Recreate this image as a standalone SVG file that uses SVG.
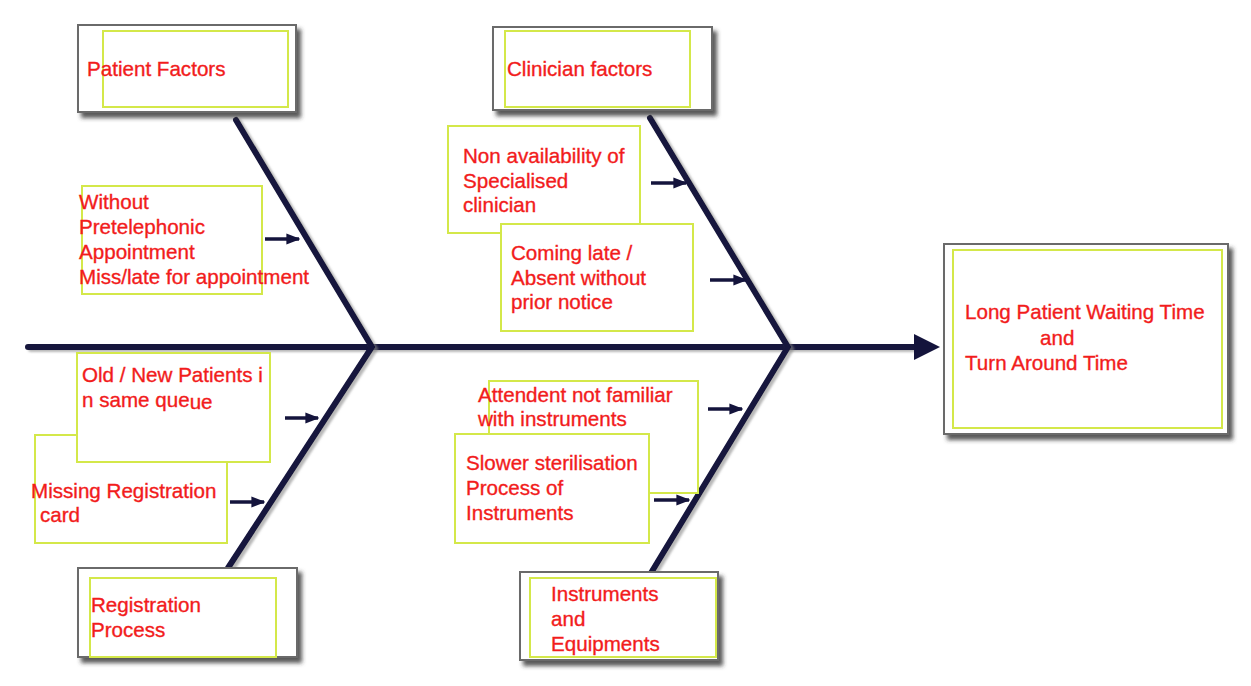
<svg xmlns="http://www.w3.org/2000/svg" width="1251" height="686" viewBox="0 0 1251 686">
<defs>
<filter id="sh" x="-10%" y="-10%" width="130%" height="140%">
<feDropShadow dx="4" dy="5" stdDeviation="2" flood-color="#333" flood-opacity="0.8"/>
</filter>
<filter id="lsh" filterUnits="userSpaceOnUse" x="0" y="0" width="1251" height="686">
<feDropShadow dx="3" dy="2" stdDeviation="1.2" flood-color="#888" flood-opacity="0.6"/>
</filter>
<marker id="ah" viewBox="0 0 10 10" refX="9" refY="5" markerWidth="4" markerHeight="4" markerUnits="strokeWidth" orient="auto">
<path d="M0,1 L10,5 L0,9 z" fill="#14143c"/>
</marker>
</defs>
<style>
.cat{fill:#fff;stroke:#6a6a6a;stroke-width:2;filter:url(#sh)}
.in{fill:none;stroke:#d4e84a;stroke-width:2}
.cb{fill:#fff;stroke:#d4e84a;stroke-width:2}
.t{font-family:"Liberation Sans",Arial,sans-serif;font-size:20.6px;fill:#f21c1c;stroke:#f21c1c;stroke-width:0.35}
.bone{stroke:#14143c;stroke-width:6;stroke-linecap:round;fill:none;filter:url(#lsh)}
.sm{stroke:#14143c;stroke-width:3.5;fill:none;marker-end:url(#ah)}
</style>
<rect width="1251" height="686" fill="#fff"/>
<g id="connectors">
<path class="bone" d="M28,347 H918"/>
<path d="M914,334 L940,347 L914,360 z" fill="#14143c"/>
<path class="bone" d="M236,120 L372,347 L228,568"/>
<path class="bone" d="M650,118 L788,347 L651,573"/>
<path class="sm" d="M265,239 H299"/>
<path class="sm" d="M651,183 H686"/>
<path class="sm" d="M710,280 H746"/>
<path class="sm" d="M285,418 H318"/>
<path class="sm" d="M230,502 H264"/>
<path class="sm" d="M708,409 H742"/>
<path class="sm" d="M654,500 H689"/>
</g>
<g id="patient-factors">
<rect class="cat" x="78" y="25" width="218" height="87"/>
<rect class="in" x="103" y="31" width="185" height="76"/>
<text class="t" x="87" y="76">Patient Factors</text>
</g>
<g id="clinician-factors">
<rect class="cat" x="493" y="27" width="219" height="83"/>
<rect class="in" x="505" y="31" width="185" height="76"/>
<text class="t" x="507" y="76">Clinician factors</text>
</g>
<g id="registration-process">
<rect class="cat" x="78" y="568" width="219" height="89"/>
<rect class="in" x="90" y="578" width="186" height="79"/>
<text class="t" x="91" y="612">Registration</text>
<text class="t" x="91" y="637">Process</text>
</g>
<g id="instruments">
<rect class="cat" x="520" y="572" width="198" height="88"/>
<rect class="in" x="530" y="578" width="186" height="79"/>
<text class="t" x="551" y="601">Instruments</text>
<text class="t" x="551" y="626">and</text>
<text class="t" x="551" y="651">Equipments</text>
</g>
<g id="effect">
<rect class="cat" x="944" y="244" width="284" height="190"/>
<rect class="in" x="953" y="250" width="269" height="178"/>
<text class="t" x="965" y="319">Long Patient Waiting Time</text>
<text class="t" x="1040" y="345">and</text>
<text class="t" x="965" y="370">Turn Around Time</text>
</g>
<g id="cause-appointment">
<rect class="cb" x="82" y="186" width="180" height="108"/>
<text class="t" x="79" y="209">Without</text>
<text class="t" x="79" y="234">Pretelephonic</text>
<text class="t" x="79" y="259">Appointment</text>
<text class="t" x="79" y="284">Miss/late for appointment</text>
</g>
<g id="cause-specialised">
<rect class="cb" x="448" y="126" width="192" height="107"/>
<text class="t" x="463" y="163">Non availability of</text>
<text class="t" x="463" y="188">Specialised</text>
<text class="t" x="463" y="212">clinician</text>
</g>
<g id="cause-late">
<rect class="cb" x="501" y="224" width="192" height="107"/>
<text class="t" x="511" y="260">Coming late /</text>
<text class="t" x="511" y="285">Absent without</text>
<text class="t" x="511" y="309">prior notice</text>
</g>
<g id="cause-card">
<rect class="cb" x="35" y="435" width="192" height="108"/>
<text class="t" x="31" y="498">Missing Registration</text>
<text class="t" x="40" y="522">card</text>
</g>
<g id="cause-queue">
<rect class="cb" x="77" y="353" width="193" height="109"/>
<text class="t" x="82" y="382">Old / New Patients i</text>
<text class="t" x="82" y="407">n same que<tspan dy="2">ue</tspan></text>
</g>
<g id="cause-attendent">
<rect class="cb" x="489" y="381" width="209" height="112"/>
<text class="t" x="478" y="402">Attendent not familiar</text>
<text class="t" x="478" y="426">with instruments</text>
</g>
<g id="cause-sterilisation">
<rect class="cb" x="455" y="434" width="194" height="109"/>
<text class="t" x="466" y="470">Slower sterilisation</text>
<text class="t" x="466" y="495">Process of</text>
<text class="t" x="466" y="520">Instruments</text>
</g>
</svg>
